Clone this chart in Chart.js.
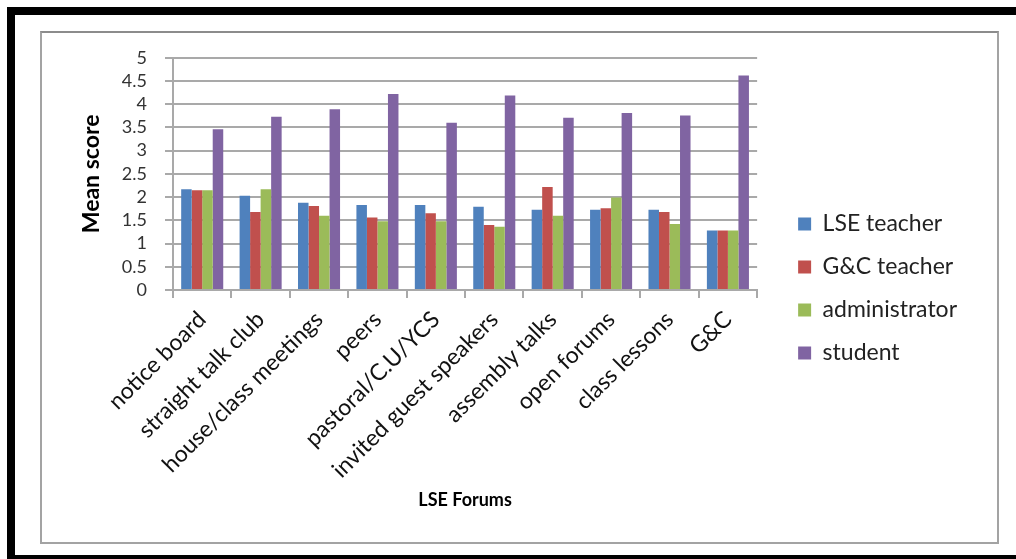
<!DOCTYPE html>
<html>
<head>
<meta charset="utf-8">
<script src="https://cdn.jsdelivr.net/npm/chart.js@4"></script>
<style>
  html, body { margin: 0; padding: 0; background: #fff; }
  body { width: 1016px; height: 559px; position: relative; overflow: hidden; }
  #outer {
    position: absolute; left: 7px; top: 7px; width: 1020px; height: 540px;
    border-top: 8px solid #000; border-left: 8px solid #000; border-bottom: 8px solid #000;
  }
  #frame {
    position: absolute; left: 40px; top: 31px; width: 955px; height: 509px;
    border: 2px solid #a3a3a3; border-top-color: #8c8c8c;
  }
  #wrap { position: absolute; left: 42px; top: 29px; width: 955px; height: 513px; }
</style>
</head>
<body>
<div id="outer"></div>
<div id="frame"></div>
<div id="wrap"><canvas id="chart"></canvas></div>
<script>
const forums = [
  "notice board", "straight talk club", "house/class meetings", "peers",
  "pastoral/C.U/YCS", "invited guest speakers", "assembly talks",
  "open forums", "class lessons", "G&C"
];
const lseTeacher = [2.17, 2.03, 1.88, 1.83, 1.83, 1.79, 1.73, 1.73, 1.73, 1.28];
const gcTeacher = [2.15, 1.68, 1.81, 1.56, 1.65, 1.40, 2.22, 1.76, 1.68, 1.28];
const administrator = [2.15, 2.17, 1.60, 1.48, 1.48, 1.36, 1.60, 1.99, 1.42, 1.28];
const student = [3.46, 3.73, 3.89, 4.22, 3.60, 4.19, 3.71, 3.81, 3.76, 4.62];

const FONT = "Lato";
const GRID = "#a9a9a9";

function bars(label, data, color) {
  return {
    label,
    data,
    backgroundColor: color,
    borderWidth: 0,
    categoryPercentage: 0.72,
    barPercentage: 1.0,
  };
}

new Chart(document.getElementById("chart"), {
  type: "bar",
  data: {
    labels: forums,
    datasets: [
      bars("LSE teacher", lseTeacher, "#4f81bd"),
      bars("G&C teacher", gcTeacher, "#c0504d"),
      bars("administrator", administrator, "#9bbb59"),
      bars("student", student, "#8064a2"),
    ],
  },
  options: {
    animation: false,
    responsive: true,
    maintainAspectRatio: false,
    // top of the plot is set by the y tick padding (~29px)
    layout: { padding: { top: 24, right: 30, bottom: 18, left: 0 } },
    plugins: {
      tooltip: { enabled: false },
      legend: {
        position: "right",
        maxWidth: 260,
        labels: {
          boxWidth: 13,
          boxHeight: 13,
          padding: 20,
          color: "#222",
          font: { family: FONT, size: 23 },
        },
      },
    },
    scales: {
      x: {
        grid: {
          display: true,
          drawOnChartArea: false,
          drawTicks: true,
          tickLength: 8,
          color: GRID,
          lineWidth: 2,
        },
        border: { color: GRID, width: 2 },
        ticks: {
          maxRotation: 45,
          minRotation: 45,
          autoSkip: false,
          padding: 8,
          color: "#111",
          font: { family: FONT, size: 23 },
        },
        title: {
          display: true,
          text: "LSE Forums",
          color: "#000",
          font: { family: FONT, size: 18, weight: "bold" },
          padding: { top: 0, bottom: 13 },
        },
        afterFit: (s) => { s.height = 234; },
      },
      y: {
        min: 0,
        max: 5,
        ticks: {
          stepSize: 0.5,
          autoSkip: false,
          padding: 18,
          color: "#333",
          font: { family: FONT, size: 18 },
          callback: (v) => String(Math.round(v * 10) / 10),
        },
        grid: { color: GRID, lineWidth: 2, tickLength: 8 },
        border: { color: GRID, width: 2 },
        title: {
          display: true,
          text: "Mean score",
          color: "#000",
          font: { family: FONT, size: 23, weight: "bold" },
          padding: { top: 36, bottom: 0 },
        },
        afterFit: (s) => { s.width = 131; },
      },
      gap: {
        position: "right",
        display: true,
        ticks: { display: false },
        grid: { display: false },
        border: { display: false },
        afterFit: (s) => { s.width = 21; },
      },
    },
  },
});
</script>
</body>
</html>
